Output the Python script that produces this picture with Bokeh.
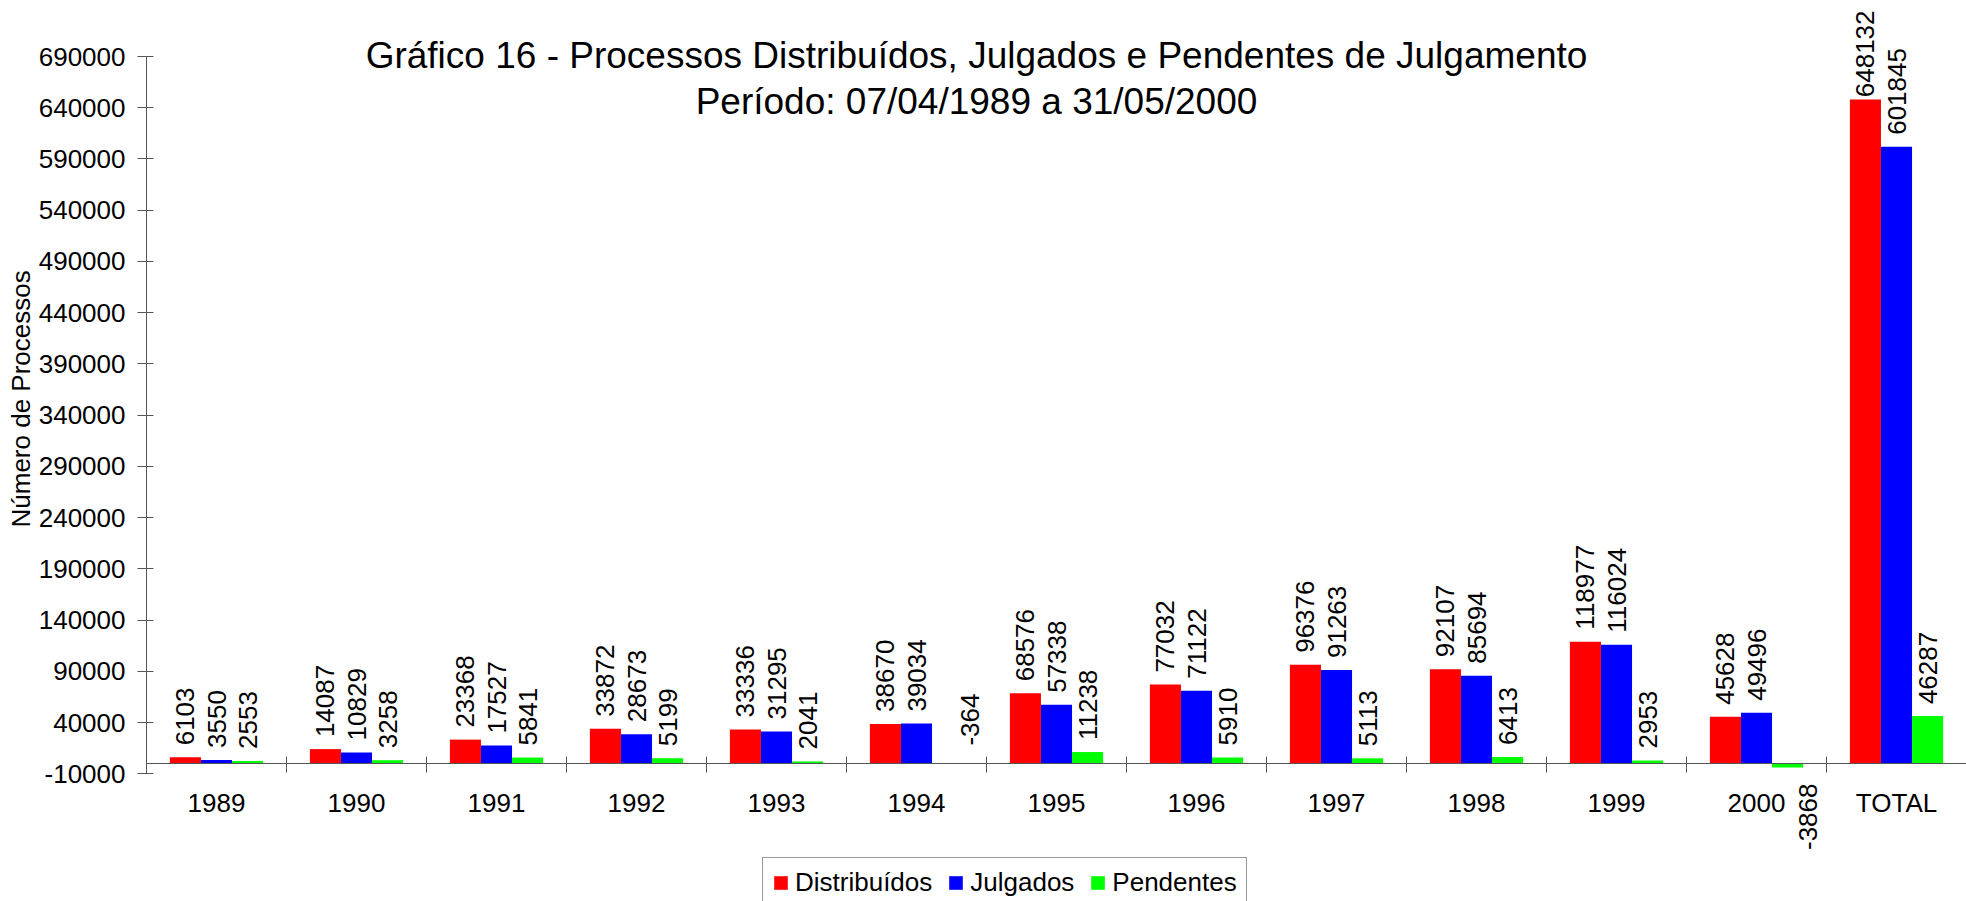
from math import pi

from bokeh.plotting import figure
from bokeh.models import (ColumnDataSource, FactorRange, Range1d, FixedTicker,
                          NumeralTickFormatter, Legend, LegendItem, Label, Title)
from bokeh.transform import dodge
from bokeh.core.properties import value
from bokeh.embed import file_html
from bokeh.resources import INLINE

# ---------------- data ----------------
categories = ["1989", "1990", "1991", "1992", "1993", "1994", "1995",
              "1996", "1997", "1998", "1999", "2000", "TOTAL"]
distribuidos = [6103, 14087, 23368, 33872, 33336, 38670, 68576,
                77032, 96376, 92107, 118977, 45628, 648132]
julgados = [3550, 10829, 17527, 28673, 31295, 39034, 57338,
            71122, 91263, 85694, 116024, 49496, 601845]
pendentes = [2553, 3258, 5841, 5199, 2041, -364, 11238,
             5910, 5113, 6413, 2953, -3868, 46287]
series_names = ["Distribuídos", "Julgados", "Pendentes"]
series_colors = ["#FF0000", "#0000FF", "#00FF00"]
y_ticks = list(range(-10000, 690001, 50000))
title_lines = ["Gráfico 16 - Processos Distribuídos, Julgados e Pendentes de Julgamento",
               "Período: 07/04/1989 a 31/05/2000"]
y_axis_title = "Número de Processos"

# ---------------- style / layout ----------------
FONT = "Liberation Sans"
FS = "26px"
AXIS_COLOR = "#555555"
W, H = 1966, 901
LEFT = 146
Y0, Y1 = -134620, 744650
BAR_W = 0.222
LABEL_GAP = 12
TICK_IN, TICK_OUT = 7, 9

p = figure(x_range=FactorRange(factors=categories, range_padding=0),
           y_range=Range1d(Y0, Y1), width=W, height=H,
           output_backend="svg", toolbar_location=None, title=None,
           min_border_left=LEFT, min_border_right=0, min_border_top=0, min_border_bottom=0)
p.outline_line_color = None
p.grid.visible = False
p.background_fill_color = "white"
p.border_fill_color = "white"

px_per_unit = H / (Y1 - Y0)

# y axis
yax = p.yaxis[0]
yax.ticker = FixedTicker(ticks=y_ticks)
yax.bounds = (y_ticks[0], y_ticks[-1])
yax.formatter = NumeralTickFormatter(format="0")
yax.major_tick_in = TICK_IN
yax.major_tick_out = TICK_OUT
yax.minor_tick_line_color = None
yax.axis_line_color = AXIS_COLOR
yax.major_tick_line_color = AXIS_COLOR
yax.major_label_text_font = FONT
yax.major_label_text_font_size = FS
yax.major_label_text_color = "black"
yax.major_label_standoff = 12

# y axis title, as a vertical title in the left panel
p.add_layout(Title(text=y_axis_title, align="left", offset=374, standoff=0,
                   text_font=FONT, text_font_size=FS, text_font_style="normal",
                   text_color="black"), "left")

# categorical x axis at y = 0
xax = p.xaxis[0]
xax.fixed_location = 0
xax.major_tick_line_color = None
xax.major_tick_in = 0
xax.major_tick_out = 0
xax.minor_tick_line_color = None
xax.axis_line_color = AXIS_COLOR
xax.major_label_standoff = 24
xax.major_label_text_font = FONT
xax.major_label_text_font_size = FS
xax.major_label_text_color = "black"

# category separators (tick marks between categories, crossing the zero line)
sep_src = ColumnDataSource(dict(cat=categories))
p.segment(x0=dodge("cat", -0.5, range=p.x_range), x1=dodge("cat", -0.5, range=p.x_range),
          y0=-TICK_OUT / px_per_unit, y1=TICK_IN / px_per_unit, source=sep_src,
          line_color=AXIS_COLOR, line_width=1)


def label_columns(vals):
    ly, align, xo, yo = [], [], [], []
    for v in vals:
        est_len = len(str(v)) * 0.556 * 26
        if v >= 0:
            room = (Y1 - v) * px_per_unit - est_len - 10
            ly.append(v); align.append("left"); xo.append(0)
            yo.append(-max(0.0, min(LABEL_GAP, room)))
        elif abs(v) * px_per_unit < 1:
            ly.append(0); align.append("left"); xo.append(22); yo.append(-18)
        else:
            ly.append(v); align.append("right"); xo.append(20); yo.append(16)
    return ly, align, xo, yo


series_values = [distribuidos, julgados, pendentes]
renderers = []
for i, (name, vals, color) in enumerate(zip(series_names, series_values, series_colors)):
    off = (i - 1) * BAR_W
    ly, align, xo, yo = label_columns(vals)
    src = ColumnDataSource(dict(cat=categories, val=vals, txt=[str(v) for v in vals],
                                ly=ly, align=align, xo=xo, yo=yo))
    r = p.vbar(x=dodge("cat", off, range=p.x_range), top="val", bottom=0, width=BAR_W,
               source=src, fill_color=color, line_color=None)
    renderers.append(r)
    p.text(x=dodge("cat", off, range=p.x_range), y="ly", text="txt", source=src,
           angle=pi / 2, text_align="align", text_baseline="middle",
           x_offset="xo", y_offset="yo",
           text_font=value(FONT), text_font_size=FS, text_color="black")

legend = Legend(items=[LegendItem(label=n, renderers=[r]) for n, r in zip(series_names, renderers)],
                orientation="horizontal", location=(616, -7),
                border_line_color="#333333", border_line_width=1,
                background_fill_color="white", background_fill_alpha=1,
                padding=9, spacing=15, label_standoff=6, glyph_width=17, glyph_height=17,
                label_text_font=FONT, label_text_font_size=FS, label_text_color="black",
                margin=0)
p.add_layout(legend)

for line, base in zip(title_lines, [846, 800]):
    p.add_layout(Label(x=976 - LEFT, y=base, x_units="screen", y_units="screen", text=line,
                       text_align="center", text_baseline="alphabetic",
                       text_font=FONT, text_font_size="37px", text_color="black"))

open("out.html", "w").write(file_html(p, INLINE))
